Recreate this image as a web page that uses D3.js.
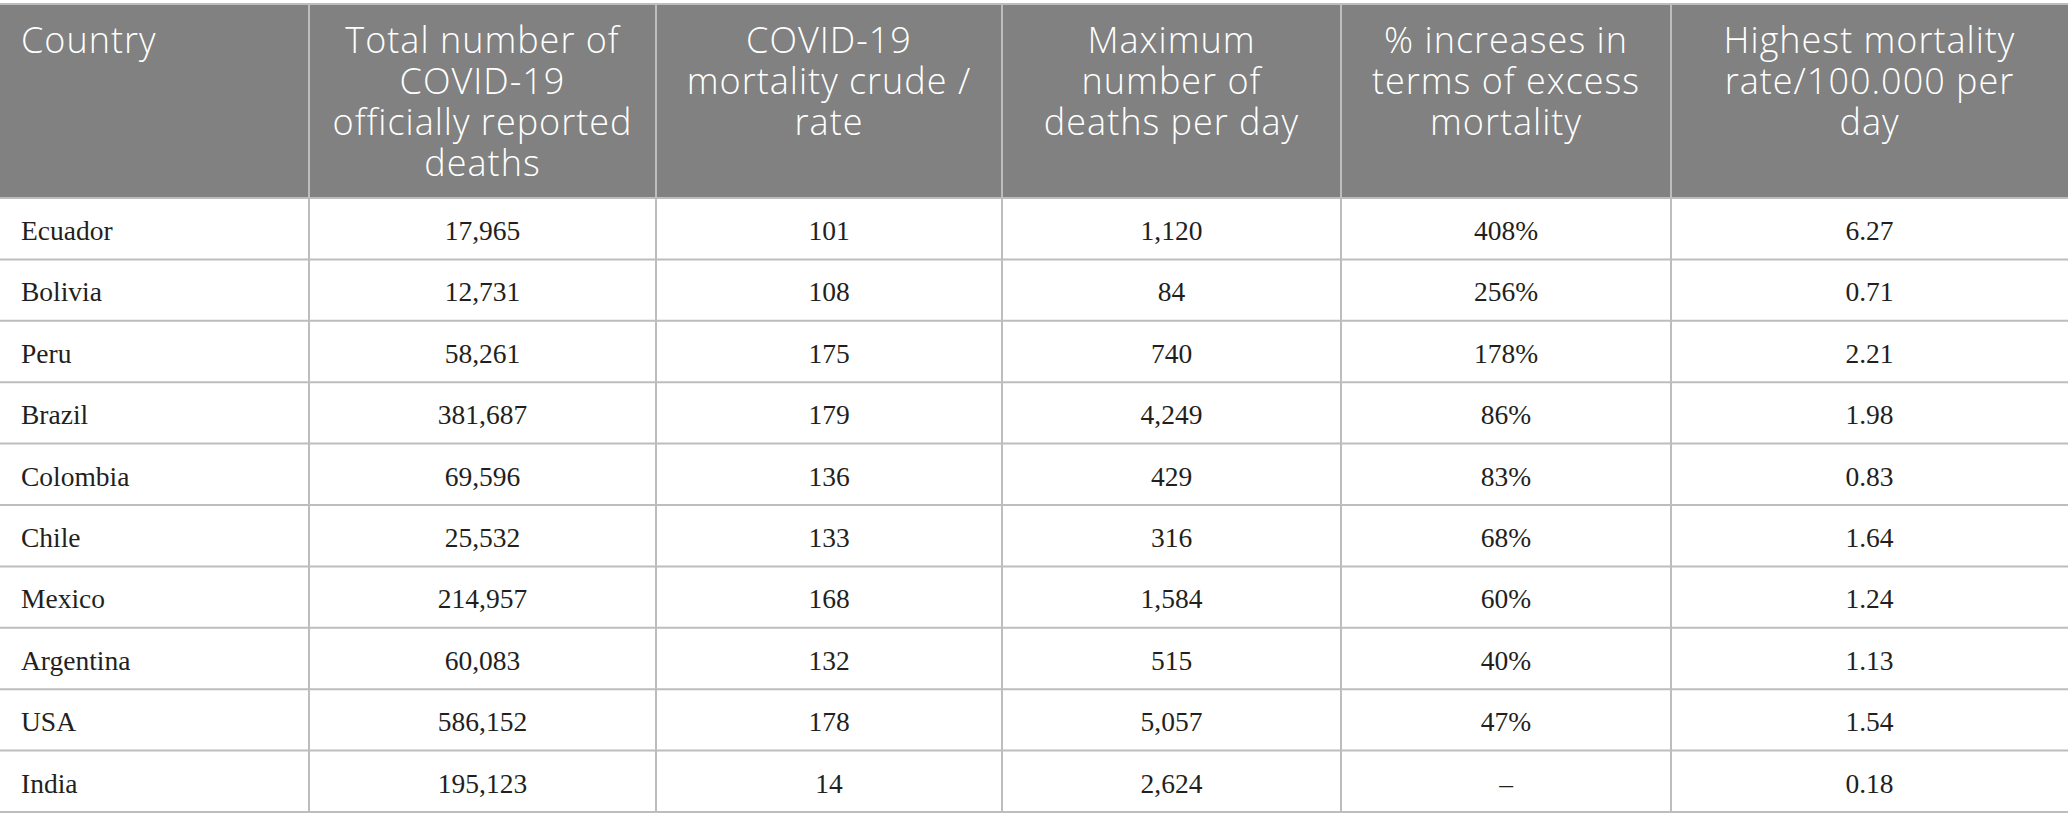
<!DOCTYPE html>
<html lang="en">
<head>
    <meta charset="UTF-8">
    <script src="https://d3js.org/d3.v7.min.js"></script>
    <title>COVID-19 mortality table</title>
    <style>
        body { margin: 0; background: #fff; }
    </style>
</head>
<body>
    <div id="app"></div>
    <script>
        const svg_width = 2068;
        const svg_height = 830;

        // data
        const countries = ['Ecuador', 'Bolivia', 'Peru', 'Brazil', 'Colombia', 'Chile', 'Mexico', 'Argentina', 'USA', 'India'];
        const total_deaths = [17965, 12731, 58261, 381687, 69596, 25532, 214957, 60083, 586152, 195123];
        const crude_rate = [101, 108, 175, 179, 136, 133, 168, 132, 178, 14];
        const max_deaths_day = [1120, 84, 740, 4249, 429, 316, 1584, 515, 5057, 2624];
        const excess_pct = [408, 256, 178, 86, 83, 68, 60, 40, 47, null];
        const highest_rate = [6.27, 0.71, 2.21, 1.98, 0.83, 1.64, 1.24, 1.13, 1.54, 0.18];
        const headers = [
            ['Country'],
            ['Total number of', 'COVID-19', 'officially reported', 'deaths'],
            ['COVID-19', 'mortality crude /', 'rate'],
            ['Maximum', 'number of', 'deaths per day'],
            ['% increases in', 'terms of excess', 'mortality'],
            ['Highest mortality', 'rate/100.000 per', 'day']
        ];

        // layout
        const col_widths = [309, 347, 346, 339, 330, 397];
        const table_top = 4;
        const header_bottom = 198;
        const table_bottom = 812;
        const line_color = '#bdbdbd';

        const col_edges = [0];
        col_widths.forEach(function (w, i) { col_edges.push(col_edges[i] + w) });

        const fmt = d3.format(',');
        const columns = [
            countries,
            total_deaths.map(fmt),
            crude_rate.map(String),
            max_deaths_day.map(fmt),
            excess_pct.map(function (d) { return d == null ? '\u2013' : d + '%' }),
            highest_rate.map(d3.format('.2f'))
        ];

        const y_scale = d3.scaleBand()
            .domain(countries)
            .range([header_bottom, table_bottom]);

        const svg = d3.select('#app')
            .append('svg')
            .attr('width', svg_width)
            .attr('height', svg_height);

        // header background
        svg.append('rect')
            .attr('x', 0)
            .attr('y', table_top)
            .attr('width', col_edges[col_edges.length - 1])
            .attr('height', header_bottom - table_top)
            .attr('fill', '#808180');

        // header text
        headers.forEach(function (lines, c) {
            const left = c === 0;
            svg.append('text')
                .attr('font-family', '"Open Sans", "Noto Sans", sans-serif')
                .attr('font-weight', 300)
                .attr('font-size', 36)
                .attr('letter-spacing', 1)
                .attr('fill', '#fff')
                .attr('text-anchor', left ? 'start' : 'middle')
                .selectAll('tspan')
                .data(lines)
                .enter()
                .append('tspan')
                .attr('x', left ? col_edges[c] + 21 : (col_edges[c] + col_edges[c + 1]) / 2)
                .attr('y', function (d, i) { return 53 + i * 41 })
                .text(function (d) { return d });
        });

        // row lines
        svg.selectAll('line.row')
            .data(countries)
            .enter()
            .append('line')
            .attr('class', 'row')
            .attr('x1', 0)
            .attr('x2', svg_width)
            .attr('y1', function (d) { return y_scale(d) + y_scale.bandwidth() })
            .attr('y2', function (d) { return y_scale(d) + y_scale.bandwidth() })
            .attr('stroke', line_color)
            .attr('stroke-width', 2);

        // top border and header bottom
        svg.append('line')
            .attr('x1', 0).attr('x2', svg_width)
            .attr('y1', table_top).attr('y2', table_top)
            .attr('stroke', line_color).attr('stroke-width', 2);
        svg.append('line')
            .attr('x1', 0).attr('x2', svg_width)
            .attr('y1', header_bottom).attr('y2', header_bottom)
            .attr('stroke', line_color).attr('stroke-width', 2);

        // column lines
        svg.selectAll('line.col')
            .data(col_edges.slice(1, -1))
            .enter()
            .append('line')
            .attr('class', 'col')
            .attr('x1', function (d) { return d })
            .attr('x2', function (d) { return d })
            .attr('y1', table_top)
            .attr('y2', table_bottom)
            .attr('stroke', line_color)
            .attr('stroke-width', 2);

        // body cells
        columns.forEach(function (vals, c) {
            const left = c === 0;
            svg.append('g')
                .selectAll('text')
                .data(vals)
                .enter()
                .append('text')
                .attr('x', left ? col_edges[c] + 21 : (col_edges[c] + col_edges[c + 1]) / 2)
                .attr('y', function (d, i) { return y_scale(countries[i]) + 42 })
                .attr('text-anchor', left ? 'start' : 'middle')
                .attr('font-family', '"Liberation Serif", "DejaVu Serif", serif')
                .attr('font-size', 27.5)
                .attr('fill', '#231f20')
                .text(function (d) { return d });
        });
    </script>
</body>
</html>
